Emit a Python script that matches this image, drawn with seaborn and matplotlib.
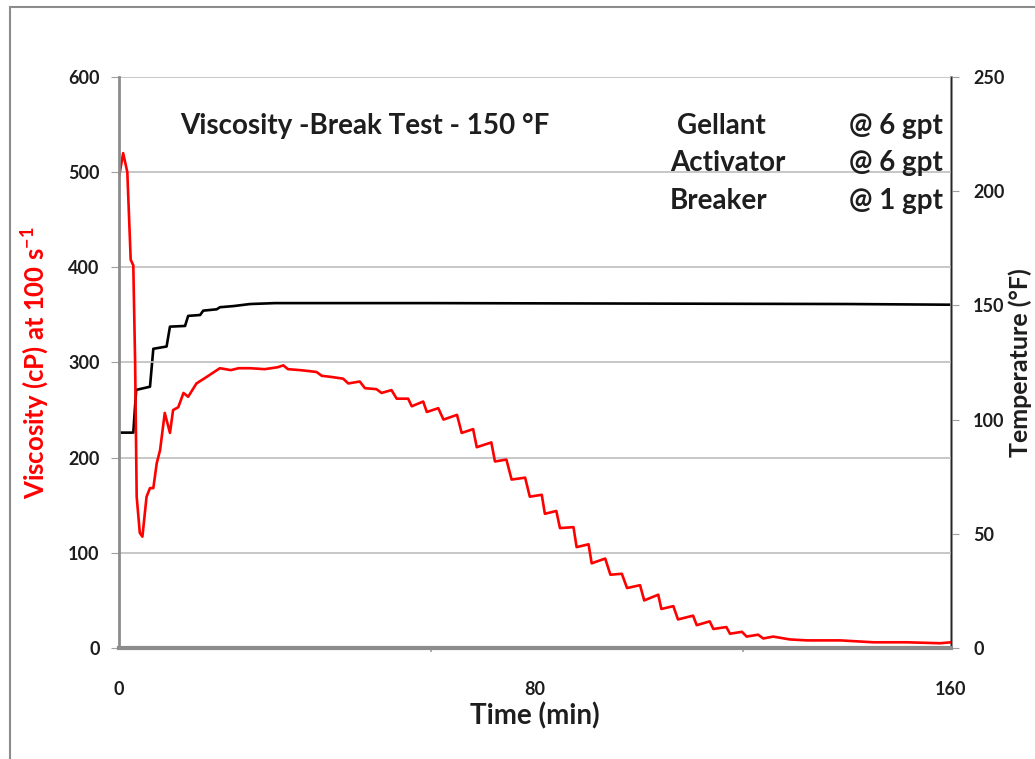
import matplotlib
matplotlib.use('Agg')
import matplotlib.pyplot as plt
import seaborn as sns
import pandas as pd
from matplotlib.patches import Rectangle

# viscosity readings (min, cP)
visc_time = [0.0, 0.8, 1.6, 2.25, 2.75, 3.1, 3.4, 4.0, 4.5, 5.3, 5.96, 6.6, 7.25, 7.9,
             8.8, 9.8, 10.4, 11.4, 12.4, 13.3, 14.9, 16.9, 19.4, 21.5, 23.0, 25.2, 28.0,
             30.5, 31.6, 32.5, 34.8, 36.5, 38.0, 39.0, 40.6, 43.1, 44.1, 46.3, 47.3, 49.5,
             50.5, 52.4, 53.4, 55.6, 56.3, 58.5, 59.2, 61.4, 62.4, 65.0, 65.9, 68.1, 68.8,
             71.6, 72.3, 74.5, 75.5, 78.1, 79.0, 81.3, 81.9, 84.1, 84.8, 87.4, 88.0, 90.3,
             90.9, 93.5, 94.5, 96.7, 97.7, 100.2, 101.0, 103.7, 104.3, 106.6, 107.5, 110.4,
             111.1, 113.6, 114.3, 116.8, 117.5, 119.8, 120.7, 122.9, 123.9, 125.8, 129.0,
             132.3, 138.7, 145.1, 151.5, 157.9, 160.0]
visc_cp = [495, 520, 500, 408, 402, 300, 159, 121, 117, 159, 168, 168, 194, 208,
           247, 226, 250, 253, 268, 264, 278, 285, 294, 292, 294, 294, 293,
           295, 297, 293, 292, 291, 290, 286, 285, 283, 278, 280, 273, 272,
           268, 271, 262, 262, 254, 259, 248, 252, 240, 245, 226, 230, 211,
           216, 196, 198, 177, 179, 159, 161, 141, 144, 126, 127, 106, 109,
           89, 94, 77, 78, 63, 66, 50, 56, 41, 44, 30, 34,
           24, 28, 20, 22, 15, 17, 12, 14, 10, 12, 9,
           8, 8, 6, 6, 5, 6]

# temperature readings (min, degF)
temp_time = [0.0, 2.75, 3.3, 5.96, 6.6, 9.15, 9.8, 12.7, 13.3, 15.6, 16.2, 18.8,
             19.4, 22.0, 25.2, 30.0, 42.5, 60.0, 100.0, 140.0, 160.0]
temp_f = [94.3, 94.3, 113, 114.4, 131, 132, 140.7, 141, 145.4, 145.8, 147.7, 148.3,
          149.2, 149.7, 150.6, 151, 151, 151, 150.8, 150.6, 150.3]

visc_ticks = [0, 100, 200, 300, 400, 500, 600]
temp_ticks = [0, 50, 100, 150, 200, 250]
time_labels = [0, 80, 160]
time_marks = [60, 120]

additives = ['Gellant', 'Activator', 'Breaker']
doses = ['@ 6 gpt', '@ 6 gpt', '@ 1 gpt']

sns.set_style('white')
plt.rcParams['font.family'] = ['Lato', 'DejaVu Sans']
plt.rcParams['mathtext.fontset'] = 'custom'
plt.rcParams['mathtext.rm'] = 'Lato:bold'
plt.rcParams['mathtext.it'] = 'Lato:bold'

TXT = '#1e1e1e'

visc_df = pd.DataFrame({'time': visc_time, 'visc': visc_cp})
temp_df = pd.DataFrame({'time': temp_time, 'temp': temp_f})

fig = plt.figure(figsize=(10.35, 7.59), dpi=100)
ax = fig.add_axes([119 / 1035, 1 - 648 / 759, (951 - 119) / 1035, (648 - 77) / 759])
ax2 = ax.twinx()

# chart-area frame (cut by the image edge on the right and bottom)
fig.patches.append(Rectangle((10 / 1035, -0.1), 1.2, 1.1 - 7 / 759,
                             transform=fig.transFigure, fill=False,
                             edgecolor='#8c8c8c', linewidth=1.5, clip_on=False))

sns.lineplot(data=temp_df, x='time', y='temp', ax=ax2, color='black',
             linewidth=1.9, estimator=None, sort=False)
sns.lineplot(data=visc_df, x='time', y='visc', ax=ax, color='#ff0000',
             linewidth=1.9, estimator=None, sort=False)

ax.set_zorder(ax2.get_zorder() + 1)
ax.patch.set_visible(False)

ax.set_xlim(0, 160)
ax.set_ylim(0, 600)
ax2.set_ylim(0, 250)

ax.set_yticks(visc_ticks)
ax.yaxis.grid(True, color='#bdbdbd', linewidth=1.2)
ax.xaxis.grid(False)
ax2.grid(False)

# labels at 0/80/160, small marks at 60/120 like the original
ax.set_xticks(time_labels)
ax.set_xticklabels([str(v) for v in time_labels])
ax.set_xticks(time_marks, minor=True)
ax.tick_params(axis='x', which='major', length=0, pad=24, labelsize=13, labelcolor=TXT)
ax.tick_params(axis='x', which='minor', length=3, width=1.2, color='#a0a0a0',
               direction='out', bottom=True)
for lab in ax.get_xticklabels():
    lab.set_fontweight('bold')

ax.tick_params(axis='y', length=6, color='#a0a0a0', pad=8, labelsize=13,
               labelcolor=TXT, left=True)
for lab in ax.get_yticklabels():
    lab.set_fontweight('bold')

ax2.set_yticks(temp_ticks)
ax2.tick_params(axis='y', length=6, color='#a0a0a0', pad=10, labelsize=13,
                labelcolor=TXT, right=True)
for lab in ax2.get_yticklabels():
    lab.set_fontweight('bold')

for a in (ax, ax2):
    a.spines['top'].set_visible(False)
ax.spines['left'].set_color('#8c8c8c')
ax.spines['left'].set_linewidth(2)
ax.spines['bottom'].set_color('#8c8c8c')
ax.spines['bottom'].set_linewidth(3)
ax2.spines['right'].set_color('#8c8c8c')
ax2.spines['right'].set_linewidth(2)
ax2.spines['left'].set_visible(False)
ax2.spines['bottom'].set_visible(False)

ax.set_xlabel('Time (min)', fontsize=20, fontweight='bold', color=TXT, labelpad=3)
ax.set_ylabel('Viscosity (cP) at 100 s$^{-1}$', fontsize=18.5, fontweight='bold',
              color='#ff0000', labelpad=12)
ax2.set_ylabel('Temperature (°F)', fontsize=18, fontweight='bold', color=TXT,
               labelpad=3)

ax.text(11.7, 549, 'Viscosity -Break Test - 150 °F', fontsize=20, fontweight='bold',
        color=TXT, va='center', ha='left')
rows_x = [107.3, 106.0, 106.0]
rows_y = [549, 510, 470]
for name, dose, xx, yy in zip(additives, doses, rows_x, rows_y):
    ax.text(xx, yy, name, fontsize=20, fontweight='bold', color=TXT,
            va='center', ha='left')
    ax.text(158.5, yy, dose, fontsize=20, fontweight='bold', color=TXT,
            va='center', ha='right')

fig.savefig('out.png', dpi=100)
plt.close(fig)
